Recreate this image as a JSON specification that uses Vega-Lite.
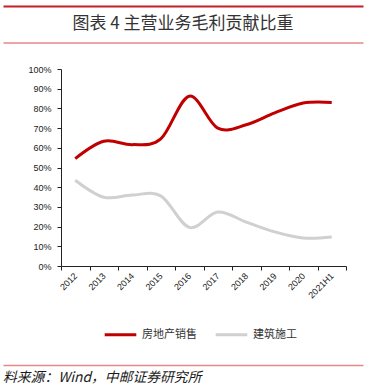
{
  "$schema": "https://vega.github.io/schema/vega-lite/v6.json",
  "padding": {"left": 0, "top": 6, "right": 5, "bottom": 0},
  "spacing": 22,
  "config": {
    "view": {"stroke": null},
    "font": "Noto Sans CJK SC",
    "axis": {"labelFont": "Liberation Sans", "labelFontSize": 9, "labelColor": "#222222"}
  },
  "vconcat": [
    {
      "width": 360,
      "height": 36.5,
      "data": {"values": [{"title": "图表 4 主营业务毛利贡献比重"}]},
      "layer": [
        {
          "mark": {"type": "text", "font": "Noto Sans CJK SC", "fontSize": 17, "color": "#333333"},
          "encoding": {
            "text": {"field": "title"},
            "x": {"datum": 0.5, "type": "quantitative", "scale": {"domain": [0, 1]},
              "axis": {"orient": "top", "domainColor": "#C41E26", "domainWidth": 2, "ticks": false, "labels": false, "grid": false, "title": null}},
            "y": {"datum": 0.5, "type": "quantitative", "scale": {"domain": [0, 1]}, "axis": null}
          }
        },
        {
          "mark": {"type": "text", "opacity": 0},
          "encoding": {
            "text": {"field": "title"},
            "x": {"datum": 0.5, "type": "quantitative",
              "axis": {"orient": "bottom", "domainColor": "#E8868A", "domainWidth": 1.5, "ticks": false, "labels": false, "grid": false, "title": null}},
            "y": {"datum": 0.5, "type": "quantitative", "axis": null}
          }
        }
      ],
      "resolve": {"axis": {"x": "independent"}}
    },
    {
      "width": 343,
      "height": 197,
      "data": {"values": [
        {"year": "2012", "series": "房地产销售", "value": 0.545},
        {"year": "2013", "series": "房地产销售", "value": 0.633},
        {"year": "2014", "series": "房地产销售", "value": 0.616},
        {"year": "2015", "series": "房地产销售", "value": 0.645},
        {"year": "2016", "series": "房地产销售", "value": 0.862},
        {"year": "2017", "series": "房地产销售", "value": 0.70},
        {"year": "2018", "series": "房地产销售", "value": 0.717},
        {"year": "2019", "series": "房地产销售", "value": 0.777},
        {"year": "2020", "series": "房地产销售", "value": 0.827},
        {"year": "2021H1", "series": "房地产销售", "value": 0.83},
        {"year": "2012", "series": "建筑施工", "value": 0.435},
        {"year": "2013", "series": "建筑施工", "value": 0.349},
        {"year": "2014", "series": "建筑施工", "value": 0.36},
        {"year": "2015", "series": "建筑施工", "value": 0.356},
        {"year": "2016", "series": "建筑施工", "value": 0.196},
        {"year": "2017", "series": "建筑施工", "value": 0.274},
        {"year": "2018", "series": "建筑施工", "value": 0.223},
        {"year": "2019", "series": "建筑施工", "value": 0.173},
        {"year": "2020", "series": "建筑施工", "value": 0.142},
        {"year": "2021H1", "series": "建筑施工", "value": 0.147}
      ]},
      "mark": {"type": "line", "interpolate": "cardinal", "strokeWidth": 3},
      "encoding": {
        "x": {"field": "year", "type": "ordinal", "sort": null,
          "scale": {"range": [58, 343], "paddingInner": 0, "paddingOuter": 0},
          "axis": {"title": " ", "titleFontSize": 10, "titlePadding": 33, "labelAngle": -45, "labelAlign": "right", "labelBaseline": "middle", "labelPadding": 4,
            "tickBand": "extent", "tickSize": 4, "tickColor": "#222222", "domainColor": "#222222", "grid": false}},
        "y": {"field": "value", "type": "quantitative",
          "scale": {"domain": [0, 1], "nice": false},
          "axis": {"title": null, "format": ".0%", "values": [0, 0.1, 0.2, 0.3, 0.4, 0.5, 0.6, 0.7, 0.8, 0.9, 1],
            "offset": -58, "tickSize": 4, "labelPadding": 6, "grid": false, "tickColor": "#222222", "domainColor": "#222222"}},
        "color": {"field": "series", "type": "nominal",
          "scale": {"domain": ["房地产销售", "建筑施工"], "range": ["#C00000", "#D0D0D0"]},
          "legend": {"title": null, "orient": "none", "legendX": 97, "legendY": 308, "direction": "horizontal",
            "symbolType": "stroke", "symbolSize": 1000, "symbolStrokeWidth": 3, "labelFont": "Noto Sans CJK SC",
            "labelFontSize": 11, "labelColor": "#333333", "labelOffset": 4, "columnPadding": 12, "padding": 3}}
      }
    },
    {
      "width": 360,
      "height": 25,
      "data": {"values": [{"source": "料来源：Wind，中邮证券研究所"}]},
      "mark": {"type": "text", "align": "left", "fontSize": 13.8, "fontStyle": "italic", "color": "#1a1a1a", "font": "Noto Sans CJK SC"},
      "encoding": {
        "text": {"field": "source"},
        "x": {"datum": 0, "type": "quantitative", "scale": {"domain": [0, 1]},
          "axis": {"orient": "top", "domainColor": "#E8868A", "domainWidth": 1.5, "ticks": false, "labels": false, "grid": false, "title": null}},
        "y": {"datum": 0.5, "type": "quantitative", "scale": {"domain": [0, 1]}, "axis": null}
      }
    }
  ]
}
